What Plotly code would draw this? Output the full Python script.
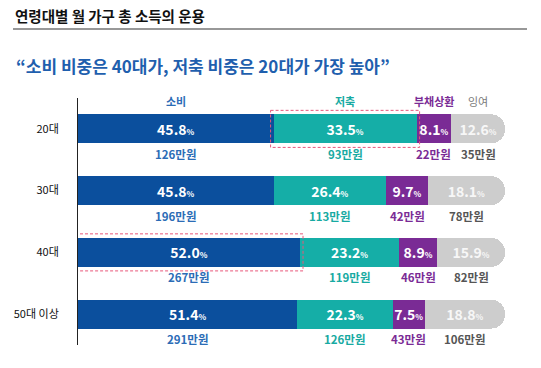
import plotly.graph_objects as go

ages = ["20대", "30대", "40대", "50대 이상"]
series_names = ["소비", "저축", "부채상환", "잉여"]
consumption = [45.8, 45.8, 52.0, 51.4]
saving = [33.5, 26.4, 23.2, 22.3]
debt = [8.1, 9.7, 8.9, 7.5]
surplus = [12.6, 18.1, 15.9, 18.8]
consumption_amt = [126, 196, 267, 291]
saving_amt = [93, 113, 119, 126]
debt_amt = [22, 42, 46, 43]
surplus_amt = [35, 78, 82, 106]

values = [consumption, saving, debt, surplus]
amounts = [consumption_amt, saving_amt, debt_amt, surplus_amt]
bar_colors = ["#0b4f9d", "#15aea7", "#7a2b95", "#cdcdcd"]
label_colors = ["#2b6cb6", "#17aaa2", "#7a2b95", "#555555"]
header_colors = ["#2b6cb6", "#17aaa2", "#7a2b95", "#7a7a7a"]
inner_text_colors = ["white", "white", "white", "#f7f7f7"]

FONT = "Noto Sans CJK KR"

fig = go.Figure()
for i, name in enumerate(series_names):
    fig.add_trace(go.Bar(
        y=ages, x=values[i], orientation="h", name=name,
        marker=dict(color=bar_colors[i], line=dict(width=0)),
        text=[f"<b>{v:.1f}<span style='font-size:8px'>%</span></b>" for v in values[i]],
        textposition="inside", insidetextanchor="middle", constraintext="none",
        textfont=dict(family=FONT, size=14, color=inner_text_colors[i]),
        hoverinfo="skip",
    ))

annotations = []
shapes = []
for r, age in enumerate(ages):
    start = 0.0
    for i in range(4):
        v = values[i][r]
        center = start + v / 2
        annotations.append(dict(
            x=center, y=age, xref="x", yref="y", yshift=-25,
            text=f"<b>{amounts[i][r]}만원</b>", showarrow=False,
            font=dict(family=FONT, size=11.5, color=label_colors[i]),
        ))
        if r == 0:
            annotations.append(dict(
                x=center, y=age, xref="x", yref="y", yshift=28,
                text=(f"<b>{series_names[i]}</b>" if i < 3 else series_names[i]),
                showarrow=False,
                font=dict(family=FONT, size=11, color=header_colors[i]),
            ))
        start += v

# highlight boxes: 20대 저축, 40대 소비
pad_x = 0.7
pad_y = 0.30
hl = [(0, 1), (2, 0)]
for r, i in hl:
    s = sum(values[k][r] for k in range(i))
    e = s + values[i][r]
    shapes.append(dict(
        type="rect", xref="x", yref="y",
        x0=s - pad_x, x1=e + pad_x, y0=r - pad_y, y1=r + pad_y,
        line=dict(color="#e8577a", width=1, dash="3px,2px"),
        fillcolor="rgba(0,0,0,0)", layer="above",
    ))

# header rule
L, R, T, B = 78, 36, 98, 23
W, H = 541 - L - R, 368 - T - B
def px_x(p):
    return (p - L) / W
def px_y(p):
    return (368 - B - p) / H

shapes.append(dict(type="line", xref="paper", yref="paper",
                   x0=px_x(13), x1=px_x(527), y0=px_y(29), y1=px_y(29),
                   line=dict(color="#333333", width=1.2)))

annotations.append(dict(
    xref="paper", yref="paper", x=px_x(13), y=px_y(15), xanchor="left", yanchor="middle",
    text="<b>연령대별 월 가구 총 소득의 운용</b>", showarrow=False,
    font=dict(family=FONT, size=14.5, color="#111111"),
))
annotations.append(dict(
    xref="paper", yref="paper", x=px_x(14), y=px_y(65), xanchor="left", yanchor="middle",
    text="<b>“소비 비중은 40대가, 저축 비중은 20대가 가장 높아”</b>", showarrow=False,
    font=dict(family=FONT, size=17, color="#1f5fae"),
))

fig.update_layout(
    width=541, height=368,
    margin=dict(l=L, r=R, t=T, b=B),
    barmode="stack", bargap=0.53, barcornerradius="50%",
    showlegend=False,
    plot_bgcolor="white", paper_bgcolor="white",
    font=dict(family=FONT),
    xaxis=dict(range=[0, 100], visible=False, fixedrange=True),
    yaxis=dict(
        categoryorder="array", categoryarray=ages, range=[3.5, -0.5],
        showline=True, linecolor="#222222", linewidth=1,
        showgrid=False, zeroline=False, ticks="",
        ticklabelstandoff=16, fixedrange=True,
        tickfont=dict(family=FONT, size=11, color="#111111"),
    ),
    annotations=annotations,
    shapes=shapes,
)

fig.write_html(
    "out.html",
    config={"displayModeBar": False, "staticPlot": True},
    post_script="document.body.style.margin='0';document.body.style.overflow='hidden';",
)
